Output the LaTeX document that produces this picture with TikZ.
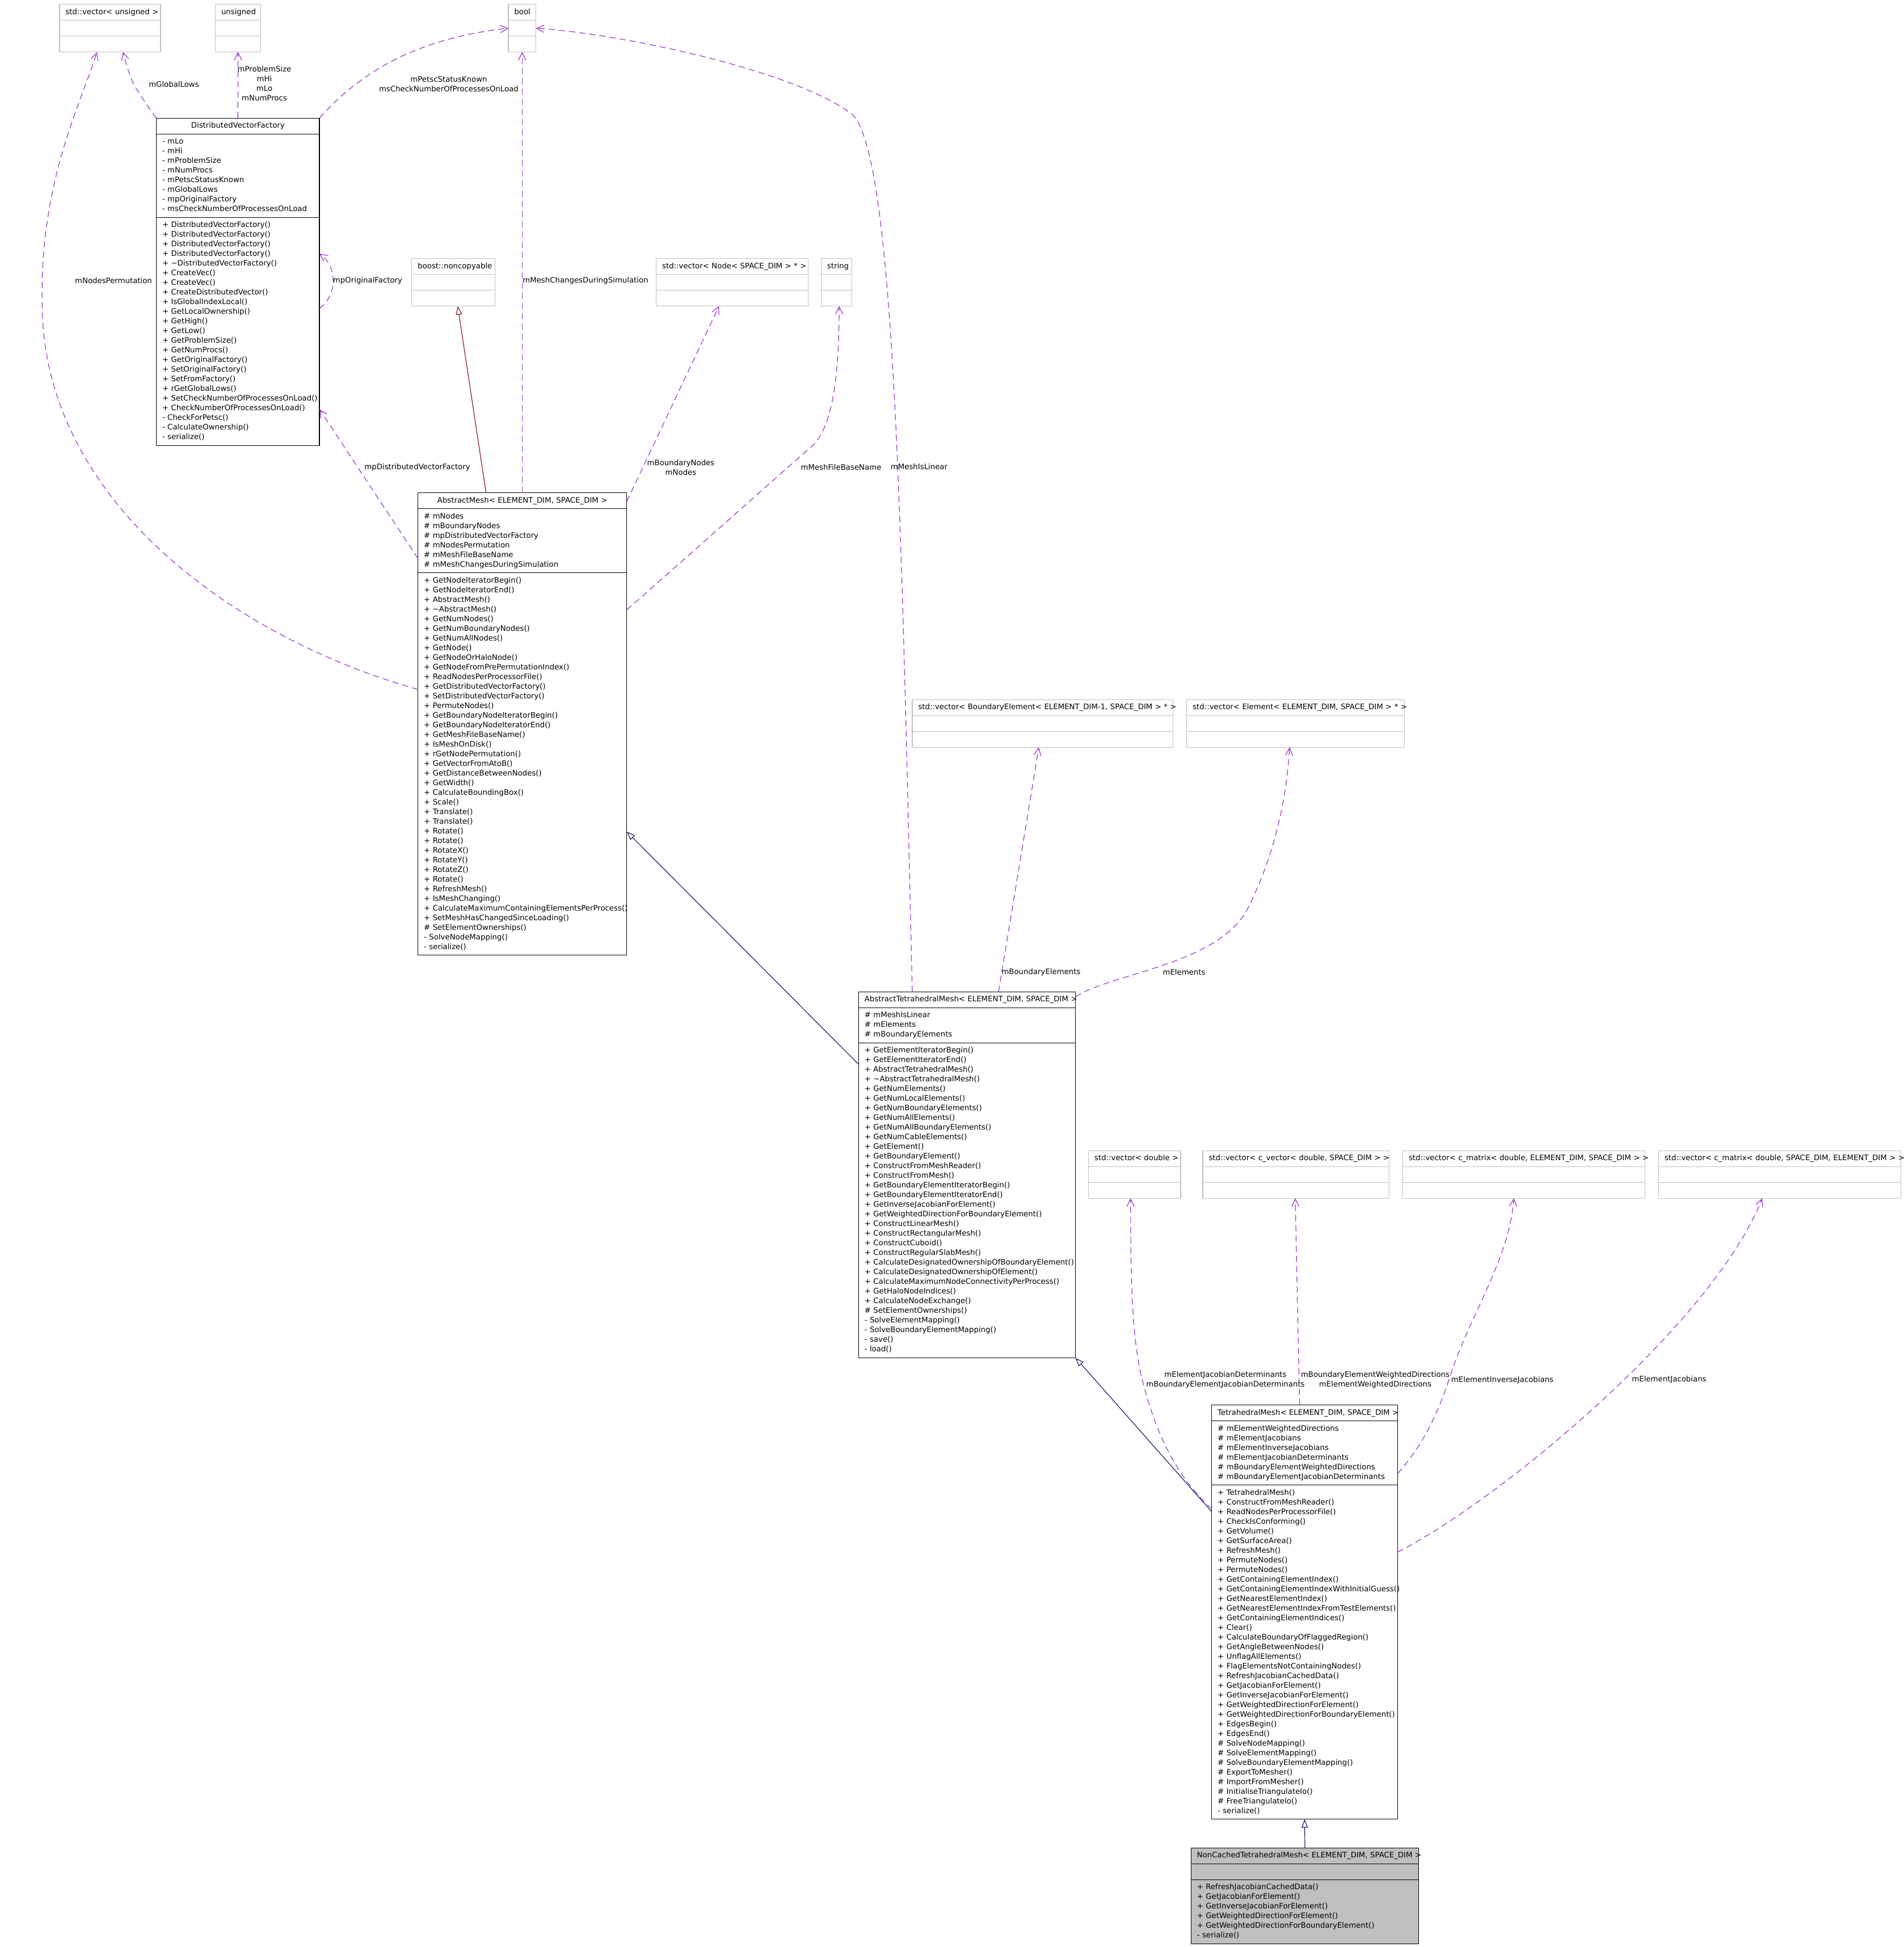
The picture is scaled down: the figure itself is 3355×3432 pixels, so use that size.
\documentclass[tikz,border=0pt]{standalone}
\usepackage{fontspec}
\setmainfont{DejaVu Sans}
\usetikzlibrary{arrows.meta}
\definecolor{grey75}{HTML}{BFBFBF}
\definecolor{orchid3}{HTML}{9A32CD}
\definecolor{midnight}{HTML}{191970}
\definecolor{firebrick4}{HTML}{8B1A1A}
\hyphenpenalty=10000
\exhyphenpenalty=10000
\begin{document}
\begin{tikzpicture}[
    x=1pt, y=-1pt,
    font=\fontsize{13.3}{17}\selectfont,
    clsbox/.style={draw=black, line width=1.3pt, outer sep=0pt, inner xsep=10.5pt,
      inner ysep=5.5pt, anchor=north west, align=left,
      execute at begin node=\strut, execute at end node=\strut},
    clshead/.style={clsbox, align=center},
    extbox/.style={clshead, draw=grey75},
    leafbox/.style={clsbox, fill=grey75},
    leafhead/.style={clshead, fill=grey75},
    lbl/.style={inner sep=0pt, align=center},
    uses/.style={draw=orchid3, line width=1.2pt, dash pattern=on 11pt off 7pt,
      -{Straight Barb[length=13pt, width=13pt, line width=1.2pt]}},
    inherit/.style={draw=midnight, line width=1.2pt,
      -{Triangle[open, length=15pt, width=11pt, line width=1.2pt]}},
    privinherit/.style={inherit, draw=firebrick4},
  ]
  \useasboundingbox (0,0) rectangle (3355,3432);

  % External types: header plus two empty compartments
  \foreach \nm/\px/\py/\tw/\ttl in {
      vecu/105/7.7/157/{std::vector<~unsigned~>},
      unsig/379.5/7.7/59/{unsigned},
      bool/896/7.7/27.5/{bool},
      noncopy/725.8/455.7/125.6/{boost::noncopyable},
      vecnode/1156.6/455.7/247/{std::vector<~Node<~SPACE\_DIM~>~*~>},
      string/1447.4/455.7/33/{string},
      vecbe/1608/1233.3/438.6/{std::vector<~BoundaryElement<~ELEMENT\_DIM-1,~SPACE\_DIM~>~*~>},
      vecel/2091.7/1233.3/363.1/{std::vector<~Element<~ELEMENT\_DIM,~SPACE\_DIM~>~*~>},
      vecdbl/1918.6/2028.3/141.4/{std::vector<~double~>},
      veccv/2120/2028.3/307.4/{std::vector<~c\_vector<~double,~SPACE\_DIM~>~>},
      veccm1/2472.5/2028.3/406/{std::vector<~c\_matrix<~double,~ELEMENT\_DIM,~SPACE\_DIM~>~>},
      veccm2/2923.5/2028.3/406/{std::vector<~c\_matrix<~double,~SPACE\_DIM,~ELEMENT\_DIM~>~>}} {
    \node[extbox, text width=\tw pt] (\nm-t) at (\px,\py) {\ttl};
    \node[extbox, text width=\tw pt] (\nm-a) at (\nm-t.south west) {};
    \node[extbox, text width=\tw pt] (\nm-o) at (\nm-a.south west) {};
  }

  % DistributedVectorFactory
  \node[clshead, text width=266.6pt] (dvf-t) at (275.5,208.2) {DistributedVectorFactory};
  \node[clsbox, text width=266.6pt] (dvf-a) at (dvf-t.south west)
    {-~mLo\\-~mHi\\-~mProblemSize\\-~mNumProcs\\-~mPetscStatusKnown\\-~mGlobalLows\\
     -~mpOriginalFactory\\-~msCheckNumberOfProcessesOnLoad};
  \node[clsbox, text width=266.6pt] (dvf-o) at (dvf-a.south west)
    {+~DistributedVectorFactory()\\+~DistributedVectorFactory()\\+~DistributedVectorFactory()\\
     +~DistributedVectorFactory()\\+~\textasciitilde DistributedVectorFactory()\\+~CreateVec()\\
     +~CreateVec()\\+~CreateDistributedVector()\\+~IsGlobalIndexLocal()\\+~GetLocalOwnership()\\
     +~GetHigh()\\+~GetLow()\\+~GetProblemSize()\\+~GetNumProcs()\\+~GetOriginalFactory()\\
     +~SetOriginalFactory()\\+~SetFromFactory()\\+~rGetGlobalLows()\\
     +~SetCheckNumberOfProcessesOnLoad()\\+~CheckNumberOfProcessesOnLoad()\\-~CheckForPetsc()\\
     -~CalculateOwnership()\\-~serialize()};

  % AbstractMesh
  \node[clshead, text width=347pt] (am-t) at (736.7,868.6)
    {AbstractMesh<~ELEMENT\_DIM,~SPACE\_DIM~>};
  \node[clsbox, text width=347pt] (am-a) at (am-t.south west)
    {\#~mNodes\\\#~mBoundaryNodes\\\#~mpDistributedVectorFactory\\\#~mNodesPermutation\\
     \#~mMeshFileBaseName\\\#~mMeshChangesDuringSimulation};
  \node[clsbox, text width=347pt] (am-o) at (am-a.south west)
    {+~GetNodeIteratorBegin()\\+~GetNodeIteratorEnd()\\+~AbstractMesh()\\
     +~\textasciitilde AbstractMesh()\\+~GetNumNodes()\\+~GetNumBoundaryNodes()\\
     +~GetNumAllNodes()\\+~GetNode()\\+~GetNodeOrHaloNode()\\+~GetNodeFromPrePermutationIndex()\\
     +~ReadNodesPerProcessorFile()\\+~GetDistributedVectorFactory()\\
     +~SetDistributedVectorFactory()\\+~PermuteNodes()\\+~GetBoundaryNodeIteratorBegin()\\
     +~GetBoundaryNodeIteratorEnd()\\+~GetMeshFileBaseName()\\+~IsMeshOnDisk()\\
     +~rGetNodePermutation()\\+~GetVectorFromAtoB()\\+~GetDistanceBetweenNodes()\\
     +~GetWidth()\\+~CalculateBoundingBox()\\+~Scale()\\+~Translate()\\+~Translate()\\
     +~Rotate()\\+~Rotate()\\+~RotateX()\\+~RotateY()\\+~RotateZ()\\+~Rotate()\\
     +~RefreshMesh()\\+~IsMeshChanging()\\+~CalculateMaximumContainingElementsPerProcess()\\
     +~SetMeshHasChangedSinceLoading()\\\#~SetElementOwnerships()\\-~SolveNodeMapping()\\
     -~serialize()};

  % AbstractTetrahedralMesh
  \node[clshead, text width=361.4pt] (atm-t) at (1513.3,1748.4)
    {AbstractTetrahedralMesh<~ELEMENT\_DIM,~SPACE\_DIM~>};
  \node[clsbox, text width=361.4pt] (atm-a) at (atm-t.south west)
    {\#~mMeshIsLinear\\\#~mElements\\\#~mBoundaryElements};
  \node[clsbox, text width=361.4pt] (atm-o) at (atm-a.south west)
    {+~GetElementIteratorBegin()\\+~GetElementIteratorEnd()\\+~AbstractTetrahedralMesh()\\
     +~\textasciitilde AbstractTetrahedralMesh()\\+~GetNumElements()\\+~GetNumLocalElements()\\
     +~GetNumBoundaryElements()\\+~GetNumAllElements()\\+~GetNumAllBoundaryElements()\\
     +~GetNumCableElements()\\+~GetElement()\\+~GetBoundaryElement()\\
     +~ConstructFromMeshReader()\\+~ConstructFromMesh()\\+~GetBoundaryElementIteratorBegin()\\
     +~GetBoundaryElementIteratorEnd()\\+~GetInverseJacobianForElement()\\
     +~GetWeightedDirectionForBoundaryElement()\\+~ConstructLinearMesh()\\
     +~ConstructRectangularMesh()\\+~ConstructCuboid()\\+~ConstructRegularSlabMesh()\\
     +~CalculateDesignatedOwnershipOfBoundaryElement()\\
     +~CalculateDesignatedOwnershipOfElement()\\
     +~CalculateMaximumNodeConnectivityPerProcess()\\+~GetHaloNodeIndices()\\
     +~CalculateNodeExchange()\\\#~SetElementOwnerships()\\-~SolveElementMapping()\\
     -~SolveBoundaryElementMapping()\\-~save()\\-~load()};

  % TetrahedralMesh
  \node[clshead, text width=306.7pt] (tm-t) at (2135.7,2476.6)
    {TetrahedralMesh<~ELEMENT\_DIM,~SPACE\_DIM~>};
  \node[clsbox, text width=306.7pt] (tm-a) at (tm-t.south west)
    {\#~mElementWeightedDirections\\\#~mElementJacobians\\\#~mElementInverseJacobians\\
     \#~mElementJacobianDeterminants\\\#~mBoundaryElementWeightedDirections\\
     \#~mBoundaryElementJacobianDeterminants};
  \node[clsbox, text width=306.7pt] (tm-o) at (tm-a.south west)
    {+~TetrahedralMesh()\\+~ConstructFromMeshReader()\\+~ReadNodesPerProcessorFile()\\
     +~CheckIsConforming()\\+~GetVolume()\\+~GetSurfaceArea()\\+~RefreshMesh()\\
     +~PermuteNodes()\\+~PermuteNodes()\\+~GetContainingElementIndex()\\
     +~GetContainingElementIndexWithInitialGuess()\\+~GetNearestElementIndex()\\
     +~GetNearestElementIndexFromTestElements()\\+~GetContainingElementIndices()\\
     +~Clear()\\+~CalculateBoundaryOfFlaggedRegion()\\+~GetAngleBetweenNodes()\\
     +~UnflagAllElements()\\+~FlagElementsNotContainingNodes()\\
     +~RefreshJacobianCachedData()\\+~GetJacobianForElement()\\
     +~GetInverseJacobianForElement()\\+~GetWeightedDirectionForElement()\\
     +~GetWeightedDirectionForBoundaryElement()\\+~EdgesBegin()\\+~EdgesEnd()\\
     \#~SolveNodeMapping()\\\#~SolveElementMapping()\\\#~SolveBoundaryElementMapping()\\
     \#~ExportToMesher()\\\#~ImportFromMesher()\\\#~InitialiseTriangulateIo()\\
     \#~FreeTriangulateIo()\\-~serialize()};

  % NonCachedTetrahedralMesh (the documented class)
  \node[leafhead, text width=380.4pt] (nctm-t) at (2099.3,3257.3)
    {NonCachedTetrahedralMesh<~ELEMENT\_DIM,~SPACE\_DIM~>};
  \node[leafbox, text width=380.4pt] (nctm-a) at (nctm-t.south west) {};
  \node[leafbox, text width=380.4pt] (nctm-o) at (nctm-a.south west)
    {+~RefreshJacobianCachedData()\\+~GetJacobianForElement()\\
     +~GetInverseJacobianForElement()\\+~GetWeightedDirectionForElement()\\
     +~GetWeightedDirectionForBoundaryElement()\\-~serialize()};

  % Member labels
  \node[lbl] (l-globallows) at (306.5,148.5) {mGlobalLows};
  \node[lbl] (l-sizes) at (466,147.5) {mProblemSize\\mHi\\mLo\\mNumProcs};
  \node[lbl] (l-petsc) at (791,148) {mPetscStatusKnown\\msCheckNumberOfProcessesOnLoad};
  \node[lbl] (l-perm) at (200,495) {mNodesPermutation};
  \node[lbl] (l-orig) at (648,495) {mpOriginalFactory};
  \node[lbl] (l-changes) at (1032,495) {mMeshChangesDuringSimulation};
  \node[lbl] (l-dvf) at (735.6,824) {mpDistributedVectorFactory};
  \node[lbl] (l-nodes) at (1200,824) {mBoundaryNodes\\mNodes};
  \node[lbl] (l-filename) at (1482.5,824) {mMeshFileBaseName};
  \node[lbl] (l-linear) at (1620,823) {mMeshIsLinear};
  \node[lbl] (l-belems) at (1835,1714) {mBoundaryElements};
  \node[lbl] (l-elems) at (2087,1714) {mElements};
  \node[lbl] (l-jacdet) at (2160,2432)
    {mElementJacobianDeterminants\\mBoundaryElementJacobianDeterminants};
  \node[lbl] (l-wdir) at (2424,2432)
    {mBoundaryElementWeightedDirections\\mElementWeightedDirections};
  \node[lbl] (l-invjac) at (2648,2433) {mElementInverseJacobians};
  \node[lbl] (l-jac) at (2942,2432) {mElementJacobians};

  % DistributedVectorFactory members
  \draw[uses] (dvf-t.north west) .. controls (231.9,146.5) .. ([xshift=111.8pt]vecu-o.south west);
  \draw[uses] (dvf-t.north) -- (unsig-o.south);
  \draw[uses] (dvf-t.north east) .. controls (650,110) and (760,65) .. (bool-a.west);
  \draw[uses] ([yshift=40.5pt]dvf-o.east) .. controls (595,520) and (595,470)
    .. ([yshift=137pt]dvf-o.east);

  % AbstractMesh members and base
  \draw[uses] ([yshift=-205.7pt]am-o.north west) .. controls (400,1120) and (90,880) .. (75,560)
    .. controls (65,330) and (140,190) .. ([xshift=66pt]vecu-o.south west);
  \draw[uses] ([yshift=25pt]am-a.south west) -- ([yshift=63.7pt]dvf-o.south east);
  \draw[privinherit] ([xshift=120pt]am-t.north west) -- ([xshift=81pt]noncopy-o.south west);
  \draw[uses] (bool-o.south |- am-t.north) -- (bool-o.south);
  \draw[uses] ([yshift=-15.4pt]am-t.north east) -- ([xshift=110.7pt]vecnode-o.south west);
  \draw[uses] ([yshift=-65.4pt]am-o.north east) .. controls (1215,978) and (1325,880) .. (1435,783)
    .. controls (1470,745) and (1479,650) .. ([xshift=31.6pt]string-o.south west);

  % AbstractTetrahedralMesh members and base
  \draw[inherit] ([yshift=-37.6pt]atm-o.north west) -- ([yshift=-456.4pt]am-o.north east);
  \draw[uses] ([xshift=94.7pt]atm-t.north west) .. controls (1590,1000) and (1580,260) .. (1500,200)
    .. controls (1400,125) and (1100,60) .. (bool-a.east);
  \draw[uses] ([xshift=246.7pt]atm-t.north west) -- ([xshift=223pt]vecbe-o.south west);
  \draw[uses] ([yshift=-8.6pt]atm-t.north east) .. controls (1960,1715) and (2150,1700) .. (2200,1600)
    .. controls (2250,1500) and (2268,1400) .. ([xshift=181.3pt]vecel-o.south west);

  % TetrahedralMesh members and base
  \draw[inherit] ([yshift=-47pt]tm-o.north west) -- (atm-o.south east);
  \draw[uses] ([yshift=-42pt]tm-o.north west) .. controls (2060,2590) and (2030,2500) .. (2011,2423)
    .. controls (1995,2350) and (1992.8,2250) .. ([xshift=74.2pt]vecdbl-o.south west);
  \draw[uses] ([xshift=155pt]tm-t.north west) -- ([xshift=163pt]veccv-o.south west);
  \draw[uses] ([yshift=20pt]tm-o.north east) .. controls (2510,2545) and (2535,2490) .. (2557,2423)
    .. controls (2590,2320) and (2660,2220) .. ([xshift=195.8pt]veccm1-o.south west);
  \draw[uses] ([yshift=-118.4pt]tm-o.north east) .. controls (2650,2640) and (3020,2330)
    .. ([xshift=182.5pt]veccm2-o.south west);

  % NonCachedTetrahedralMesh base
  \draw[inherit] (nctm-t.north) -- (tm-o.south);
\end{tikzpicture}
\end{document}
